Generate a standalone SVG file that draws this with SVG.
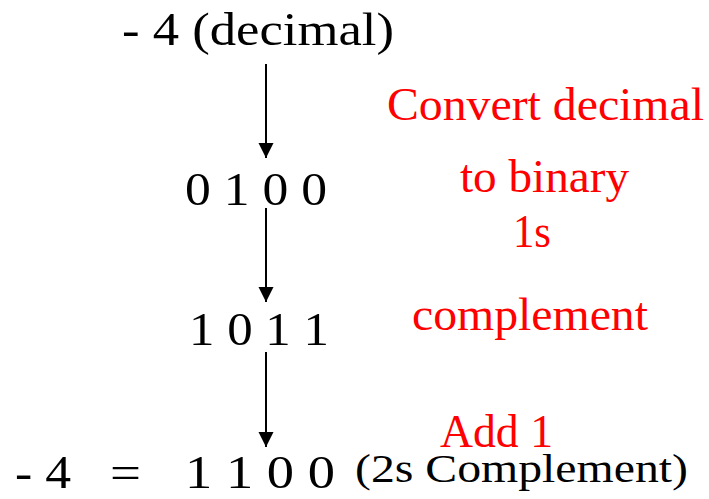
<svg xmlns="http://www.w3.org/2000/svg" width="709" height="499" viewBox="0 0 709 499">
  <style>
    text { font-family: "Liberation Serif", "Times New Roman", serif; font-size: 47px; fill: #000; }
    .red { fill: #ff0000; }
    .small { font-size: 40px; }
    .conn line { stroke: #000; stroke-width: 2; }
  </style>
  <defs>
    <marker id="ah" markerUnits="userSpaceOnUse" markerWidth="16" markerHeight="16" refX="15" refY="7.5" orient="auto">
      <path d="M0,0 L15,7.5 L0,15 Z" fill="#000"/>
    </marker>
  </defs>
  <rect width="709" height="499" fill="#fff"/>

  <g id="n-decimal">
    <text x="122" y="45" textLength="272" lengthAdjust="spacingAndGlyphs">- 4 (decimal)</text>
  </g>
  <g id="n-binary">
    <text x="185" y="205" textLength="142" lengthAdjust="spacingAndGlyphs">0 1 0 0</text>
  </g>
  <g id="n-ones">
    <text x="189" y="345" textLength="140" lengthAdjust="spacingAndGlyphs">1 0 1 1</text>
  </g>
  <g id="n-twos">
    <text x="15" y="488" textLength="56" lengthAdjust="spacingAndGlyphs">- 4</text>
    <text x="110" y="488" textLength="31" lengthAdjust="spacingAndGlyphs">=</text>
    <text x="185" y="488" textLength="150" lengthAdjust="spacingAndGlyphs">1 1 0 0</text>
    <text class="small" x="355" y="482" textLength="333" lengthAdjust="spacingAndGlyphs">(2s Complement)</text>
  </g>

  <g id="labels">
    <text class="red" x="387" y="120" textLength="317" lengthAdjust="spacingAndGlyphs">Convert decimal</text>
    <text class="red" x="460" y="192" textLength="169" lengthAdjust="spacingAndGlyphs">to binary</text>
    <text class="red" x="513" y="247" textLength="38" lengthAdjust="spacingAndGlyphs">1s</text>
    <text class="red" x="412" y="330" textLength="236" lengthAdjust="spacingAndGlyphs">complement</text>
    <text class="red" x="440" y="447" textLength="113" lengthAdjust="spacingAndGlyphs">Add 1</text>
  </g>

  <g id="connectors" class="conn">
    <line x1="266" y1="64" x2="266" y2="158" marker-end="url(#ah)"/>
    <line x1="266" y1="208" x2="266" y2="302" marker-end="url(#ah)"/>
    <line x1="266" y1="352" x2="266" y2="447" marker-end="url(#ah)"/>
  </g>
</svg>
